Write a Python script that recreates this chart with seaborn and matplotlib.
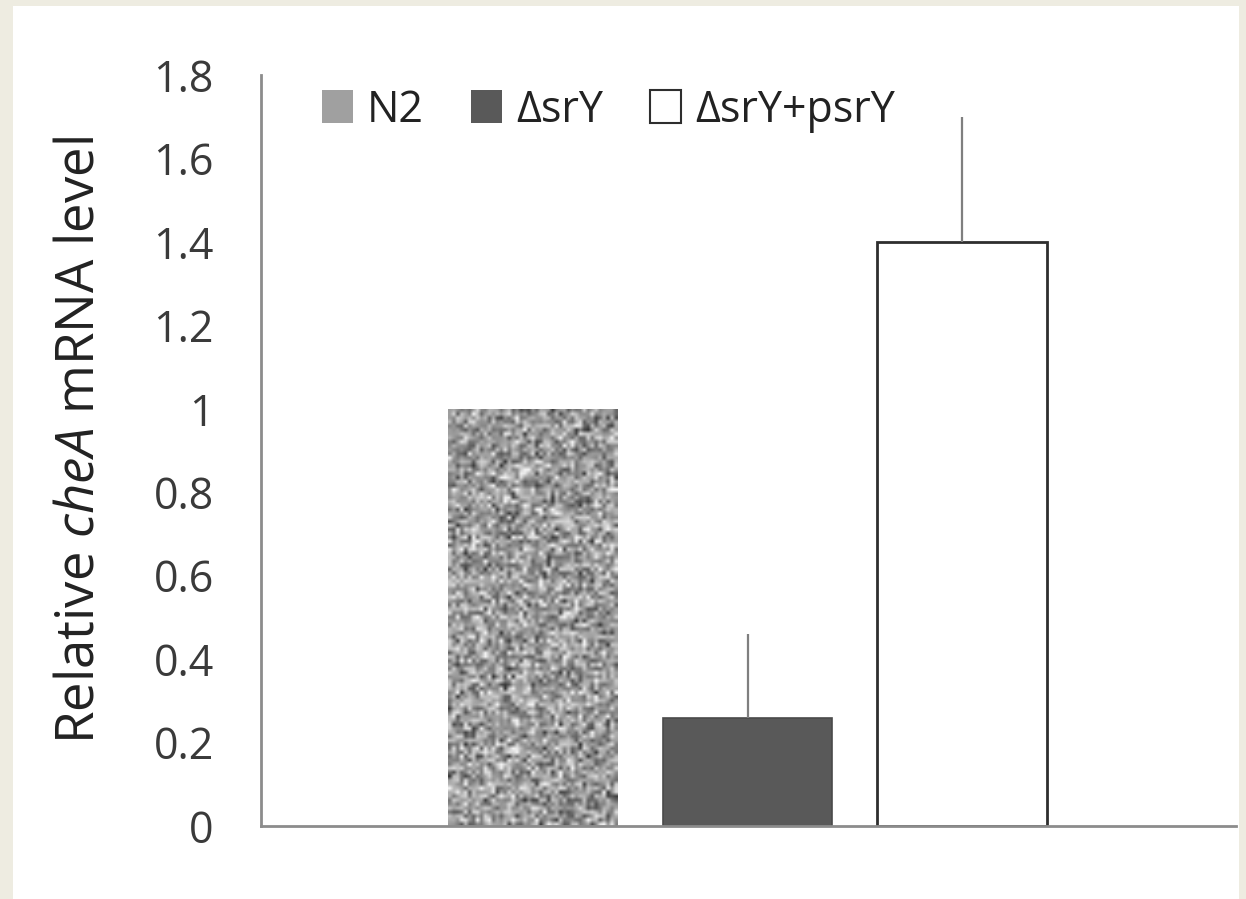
import numpy as np
import pandas as pd
import matplotlib
matplotlib.use("Agg")
import matplotlib.pyplot as plt
from matplotlib.patches import Rectangle, Patch
import seaborn as sns

# Relative cheA mRNA levels per strain
strains = ["N2", "ΔsrY", "ΔsrY+psrY"]
levels = [1.0, 0.26, 1.40]
errors = [0.0, 0.20, 0.30]
yticks = [0, 0.2, 0.4, 0.6, 0.8, 1, 1.2, 1.4, 1.6, 1.8]
ytick_labels = ["0", "0.2", "0.4", "0.6", "0.8", "1", "1.2", "1.4", "1.6", "1.8"]

sns.set_theme(style="white")
plt.rcParams["font.family"] = ["Open Sans", "DejaVu Sans"]
plt.rcParams["mathtext.fontset"] = "custom"
plt.rcParams["mathtext.it"] = "Open Sans:italic"
plt.rcParams["mathtext.rm"] = "Open Sans"

df = pd.DataFrame({"strain": strains, "level": levels})
colors = {"N2": "#a9a9a9", "ΔsrY": "#595959", "ΔsrY+psrY": "#ffffff"}

fig = plt.figure(figsize=(12.46, 8.99), dpi=100)
fig.patch.set_facecolor("#eeece1")
fig.add_artist(Rectangle((13 / 1246, 0), (1239 - 13) / 1246, 1 - 6 / 899,
                         transform=fig.transFigure, facecolor="white",
                         edgecolor="none", zorder=0))

ax = fig.add_axes([261 / 1246, 1 - 826 / 899, (1236 - 261) / 1246, (826 - 75) / 899])
ax.set_facecolor("none")

sns.barplot(data=df, x="strain", y="level", hue="strain", palette=colors,
            order=strains, hue_order=strains, width=0.79, legend=False,
            saturation=1, ax=ax, errorbar=None)

bars = ax.patches
bars[0].set_edgecolor("none")
bars[1].set_edgecolor("#4a4a4a")
bars[1].set_linewidth(1.2)
bars[2].set_edgecolor("#2e2e2e")
bars[2].set_linewidth(2.0)

# speckled grey texture for the N2 bar
b0 = bars[0]
x0, y0 = b0.get_x(), b0.get_y()
w0, h0 = b0.get_width(), b0.get_height()
tex = np.random.default_rng(7).normal(0.61, 0.17, size=(105, 43))
tex = np.clip(tex, 0.2, 0.95)
im = ax.imshow(tex, cmap="gray", vmin=0, vmax=1, extent=(x0, x0 + w0, y0, y0 + h0),
               aspect="auto", interpolation="bilinear", zorder=2)
im.set_clip_path(b0)
b0.set_facecolor("none")

# upward-only error bars
xpos = np.arange(len(strains))
for i in range(len(strains)):
    if errors[i] > 0:
        ax.errorbar(xpos[i], levels[i], yerr=[[0], [errors[i]]], fmt="none",
                    ecolor="#7f7f7f", elinewidth=1.6, capsize=0, zorder=3)

ax.set_xlim(-1.265, 3.274)
ax.set_ylim(0, 1.8)
ax.set_yticks(yticks)
ax.set_yticklabels(ytick_labels)
ax.set_xticks([])
ax.set_xlabel("")
ax.tick_params(axis="y", length=0, pad=34, labelsize=31, labelcolor="#3a3a3a")

for s in ["top", "right"]:
    ax.spines[s].set_visible(False)
for s in ["left", "bottom"]:
    ax.spines[s].set_color("#8c8c8c")
    ax.spines[s].set_linewidth(2.0)

ax.set_ylabel(r"Relative $\mathit{cheA}$ mRNA level", fontsize=38, color="#222222")
ax.yaxis.set_label_coords(-0.158, 0.514)

handles = [
    Patch(facecolor="#a0a0a0", edgecolor="none", hatch="...."),
    Patch(facecolor="#595959", edgecolor="none"),
    Patch(facecolor="white", edgecolor="#2e2e2e", linewidth=1.5),
]
leg = ax.legend(handles, strains, loc="center left", bbox_to_anchor=(0.0626, 0.953),
                ncol=3, frameon=False, fontsize=31, handlelength=0.72,
                handleheight=0.8, handletextpad=0.32, columnspacing=1.1,
                borderpad=0, borderaxespad=0, labelcolor="#222222")

fig.savefig("out.png", dpi=100, facecolor=fig.get_facecolor())
